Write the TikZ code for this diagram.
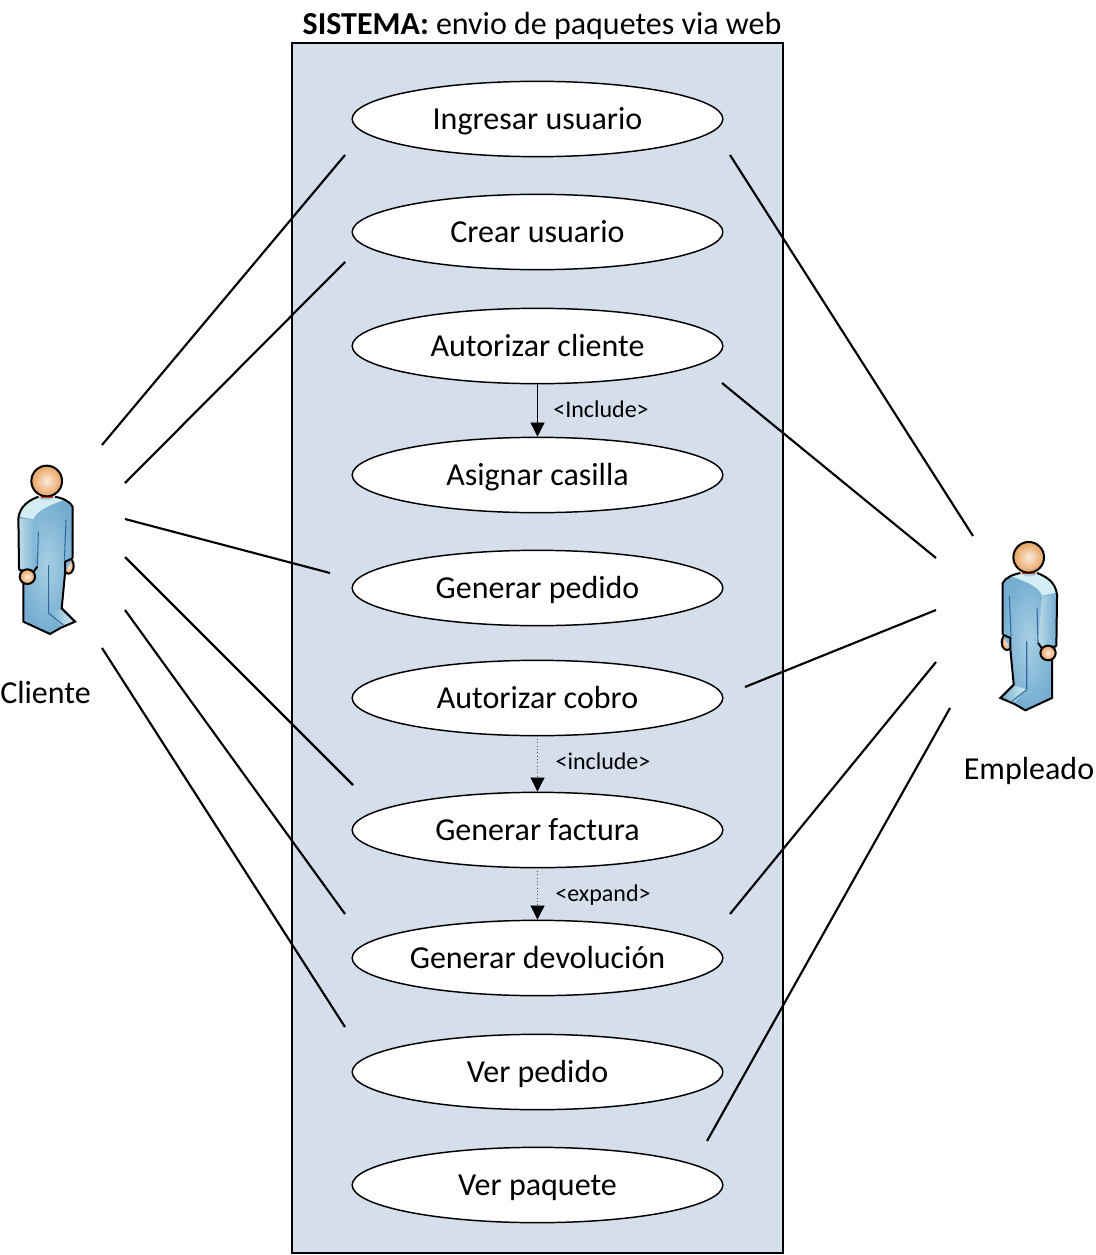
\documentclass[tikz,border=0pt]{standalone}
\usepackage{fontspec}
\setmainfont{Carlito}
\usetikzlibrary{arrows.meta,shapes.geometric}
\definecolor{sysfill}{HTML}{D5DFEC}
\definecolor{suitdark}{HTML}{74ADD0}
\definecolor{suitmid}{HTML}{A9CFE4}
\definecolor{suitpale}{HTML}{D4EDF2}
\definecolor{suitline}{HTML}{2F6AA0}
\definecolor{skinpale}{HTML}{FBEBDC}
\definecolor{skindark}{HTML}{E8A25E}
\tikzset{every picture/.style={line width=0.75pt}}
\tikzset{
  usecase/.style={draw, line width=1.1pt, fill=white, ellipse, minimum width=278pt, minimum height=56.5pt, inner sep=0pt, font=\fontsize{24}{26}\selectfont, text height=18pt, text depth=2.5pt},
  assoc/.style={line width=1.6pt},
  relation/.style={line width=0.5pt, -{Triangle[length=10.5pt,width=10.5pt,black]}},
  relationdot/.style={relation, dotted, draw=black!70, shorten <=2pt},
  stereotype/.style={font=\fontsize{18}{20}\selectfont, text height=14pt, text depth=2.2pt},
  actorname/.style={font=\fontsize{24}{26}\selectfont, text height=18pt, text depth=2.5pt},
  person/.pic={
    \begin{scope}[x=0.25pt, y=-0.25pt, shift={(-140,-93)}, line width=1.5pt]
      \shade[draw, inner color=skinpale, outer color=skindark] (205,348) ellipse (16 and 23);
      \shade[inner color=suitmid, outer color=suitdark] (115,140) .. controls (90,150) and (60,165) .. (55,205) -- (57,360) -- (70,395) -- (70,515) -- (150,552) -- (183,533) -- (225,515) -- (185,475) -- (195,370) -- (217,325) -- (218,170) .. controls (210,155) and (190,145) .. (165,140) -- cycle;
      \shade[left color=suitdark, right color=suitpale] (148,490) -- (185,476) -- (222,514) -- (184,530) -- cycle;
      \shade[left color=suitmid!60!suitpale, right color=suitdark] (58,205) -- (100,210) -- (112,350) -- (100,364) -- (60,358) -- cycle;
      \fill[suitpale] (117,142) .. controls (90,150) and (64,165) .. (58,200) -- (100,208) .. controls (110,180) and (150,165) .. (192,150) .. controls (180,143) and (170,142) .. (162,142) -- cycle;
      \draw[suitline, line width=0.8pt] (115,245) -- (112,350) (146,345) -- (146,490) -- (190,525) (198,210) -- (193,330);
      \draw (57,360) -- (100,366) -- (112,350);
      \draw (195,370) -- (195,335) -- (218,325);
      \draw (115,140) .. controls (90,150) and (60,165) .. (55,205) -- (57,360) (70,395) -- (70,515) -- (150,552) -- (183,533) -- (225,515) -- (185,475) -- (195,370) (218,325) -- (218,170) .. controls (210,155) and (190,145) .. (165,140);
      \shade[draw, inner color=skinpale, outer color=skindark] (82,380) ellipse (23 and 22);
      \fill[suitmid] (115,140) -- (165,140) -- (150,150) -- (125,150) -- cycle;
      \fill[red!60!orange] (122,136) rectangle (160,143);
      \shade[draw, inner color=skinpale, outer color=skindark] (140,93) circle (46);
    \end{scope}
  }
}

\begin{document}
\begin{tikzpicture}[x=0.75pt, y=-0.75pt]
    \useasboundingbox (0,0) rectangle (1095,1255);
    % system frame
    \node[draw, line width=1.1pt, fill=sysfill, minimum width=368.25pt, minimum height=907.5pt, inner sep=0pt] (sistema) at (537.5,648) {};
    \node[actorname] (titulo) at (542,24.5) {\textbf{SISTEMA:} envio de paquetes via web};

    % use cases
    \foreach \name/\ypos/\txt in {ingresar/119/Ingresar usuario, crear/232/Crear usuario, autorizar/346/Autorizar cliente, asignar/475/Asignar casilla, pedido/588/Generar pedido, cobro/698/Autorizar cobro, factura/830/Generar factura, devolucion/958/Generar devolución, verpedido/1072/Ver pedido, verpaquete/1185/Ver paquete}
        \node[usecase] (\name) at (537.5,\ypos) {\txt};

    % actors
    \pic at (46.7,481) {person};
    \pic[xscale=-1] at (1028.7,557.3) {person};
    \node[actorname] (cliente) at (45.5,693) {Cliente};
    \node[actorname] (empleado) at (1029,769) {Empleado};

    % free ends of the associations
    \coordinate (c1) at (102,445);
    \coordinate (c2) at (125,483);
    \coordinate (c3) at (125,519);
    \coordinate (c4) at (125,557);
    \coordinate (c5) at (125,610);
    \coordinate (c6) at (102,648);
    \coordinate (u1) at (345,155);
    \coordinate (u2) at (345,262);
    \coordinate (u3) at (330,573);
    \coordinate (u4) at (353,785);
    \coordinate (u5) at (345,914);
    \coordinate (u6) at (345,1027);
    \coordinate (e1) at (973,536);
    \coordinate (e2) at (936,558);
    \coordinate (e3) at (936,610);
    \coordinate (e4) at (936,662);
    \coordinate (e5) at (950,708);
    \coordinate (v1) at (730,155);
    \coordinate (v2) at (722,383);
    \coordinate (v3) at (745,687);
    \coordinate (v4) at (730,914);
    \coordinate (v5) at (707,1141);
    \foreach \a/\b in {c1/u1, c2/u2, c3/u3, c4/u4, c5/u5, c6/u6, e1/v1, e2/v2, e3/v3, e4/v4, e5/v5}
        \draw[assoc] (\a) -- (\b);

    % relations between use cases
    \draw[relation] (autorizar) -- (asignar);
    \draw[relationdot] (cobro) -- (factura);
    \draw[relationdot] (factura) -- (devolucion);
    \node[stereotype] (incluye) at (601,410) {<Include>};
    \node[stereotype] (incluir) at (603,762) {<include>};
    \node[stereotype] (expande) at (603,894) {<expand>};
\end{tikzpicture}
\end{document}
